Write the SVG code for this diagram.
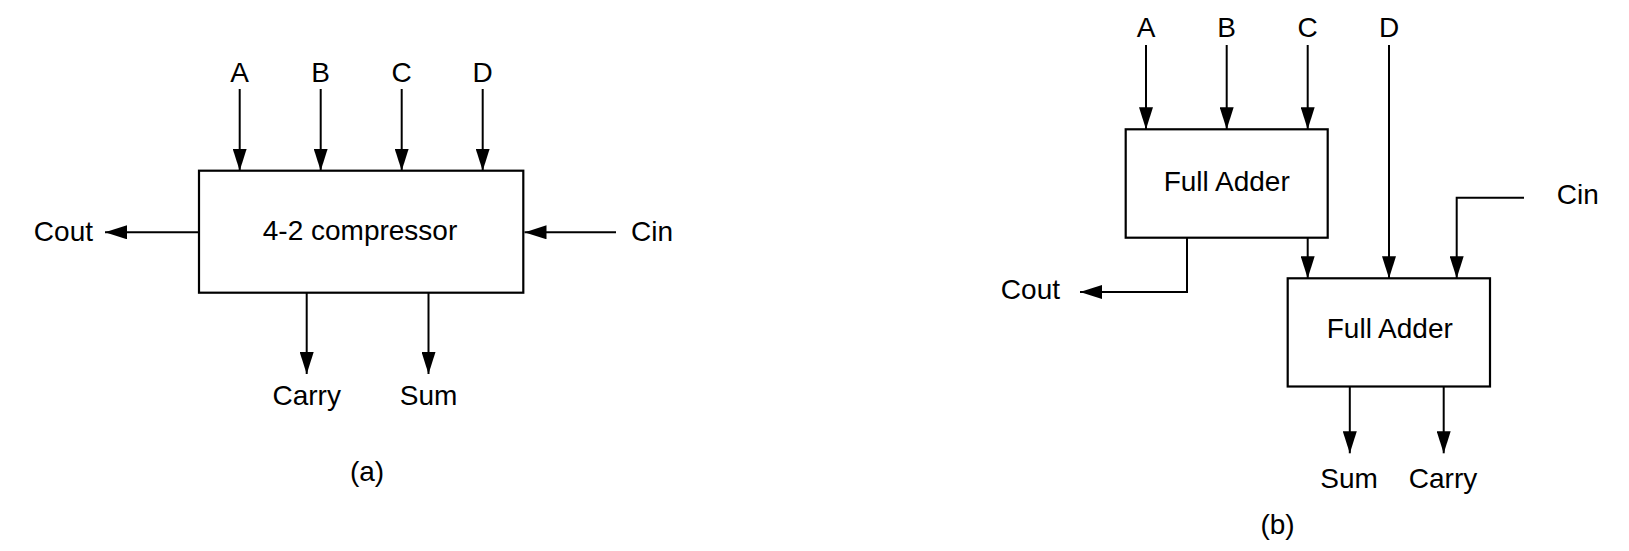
<svg xmlns="http://www.w3.org/2000/svg" width="1629" height="551" viewBox="0 0 1629 551">
<style>
  .box { fill: #fff; stroke: #000; stroke-width: 2.2; }
  .wire { fill: none; stroke: #000; stroke-width: 2; marker-end: url(#arr); }
  .plain { fill: none; stroke: #000; stroke-width: 2; }
  text { font-family: "Liberation Sans", Arial, sans-serif; font-size: 28px; fill: #000; }
  .c { text-anchor: middle; }
  .e { text-anchor: end; }
</style>
<defs>
  <marker id="arr" markerUnits="userSpaceOnUse" markerWidth="22" markerHeight="14" refX="22" refY="7" orient="auto">
    <path d="M0,0 L22,7 L0,14 z" fill="#000"/>
  </marker>
</defs>
<rect width="1629" height="551" fill="#fff"/>

<!-- (a) 4-2 compressor -->
<g id="compressor">
  <rect class="box" x="199" y="170.7" width="324.3" height="122"/>
  <text class="c" x="360" y="240">4-2 compressor</text>
</g>
<g id="labels-a">
  <text class="c" x="239.7" y="82">A</text>
  <text class="c" x="320.7" y="82">B</text>
  <text class="c" x="401.7" y="82">C</text>
  <text class="c" x="482.7" y="82">D</text>
  <text class="e" x="93" y="241">Cout</text>
  <text x="631" y="241">Cin</text>
  <text class="c" x="306.7" y="405">Carry</text>
  <text class="c" x="428.5" y="405">Sum</text>
  <text class="c" x="367" y="481">(a)</text>
</g>

<!-- (b) two full adders -->
<g id="fa1">
  <rect class="box" x="1125.7" y="129.3" width="202" height="108.4"/>
  <text class="c" x="1226.7" y="191">Full Adder</text>
</g>
<g id="fa2">
  <rect class="box" x="1287.7" y="278.3" width="202.3" height="108.2"/>
  <text class="c" x="1389.8" y="338">Full Adder</text>
</g>
<g id="labels-b">
  <text class="c" x="1146" y="37">A</text>
  <text class="c" x="1226.7" y="37">B</text>
  <text class="c" x="1307.7" y="37">C</text>
  <text class="c" x="1389" y="37">D</text>
  <text x="1556.7" y="204.3">Cin</text>
  <text class="e" x="1060" y="299">Cout</text>
  <text class="c" x="1349" y="488">Sum</text>
  <text class="c" x="1443" y="488">Carry</text>
  <text class="c" x="1277.6" y="534">(b)</text>
</g>

<g id="connectors">
  <!-- (a) -->
  <line class="wire" x1="239.7" y1="89" x2="239.7" y2="170.7"/>
  <line class="wire" x1="320.7" y1="89" x2="320.7" y2="170.7"/>
  <line class="wire" x1="401.7" y1="89" x2="401.7" y2="170.7"/>
  <line class="wire" x1="482.7" y1="89" x2="482.7" y2="170.7"/>
  <line class="wire" x1="199" y1="232.3" x2="105" y2="232.3"/>
  <line class="wire" x1="616" y1="232.3" x2="524.5" y2="232.3"/>
  <line class="wire" x1="306.7" y1="292.7" x2="306.7" y2="374"/>
  <line class="wire" x1="428.5" y1="292.7" x2="428.5" y2="374"/>
  <!-- (b) -->
  <line class="wire" x1="1146" y1="45" x2="1146" y2="129.3"/>
  <line class="wire" x1="1226.7" y1="45" x2="1226.7" y2="129.3"/>
  <line class="wire" x1="1307.7" y1="45" x2="1307.7" y2="129.3"/>
  <line class="wire" x1="1389" y1="45" x2="1389" y2="278.3"/>
  <line class="wire" x1="1307.7" y1="237.7" x2="1307.7" y2="278.3"/>
  <polyline class="wire" points="1524,197.7 1456.7,197.7 1456.7,278.3"/>
  <polyline class="wire" points="1187,237.7 1187,292 1080,292"/>
  <line class="wire" x1="1349.8" y1="386.5" x2="1349.8" y2="453.3"/>
  <line class="wire" x1="1443.7" y1="386.5" x2="1443.7" y2="453.3"/>
</g>
</svg>
